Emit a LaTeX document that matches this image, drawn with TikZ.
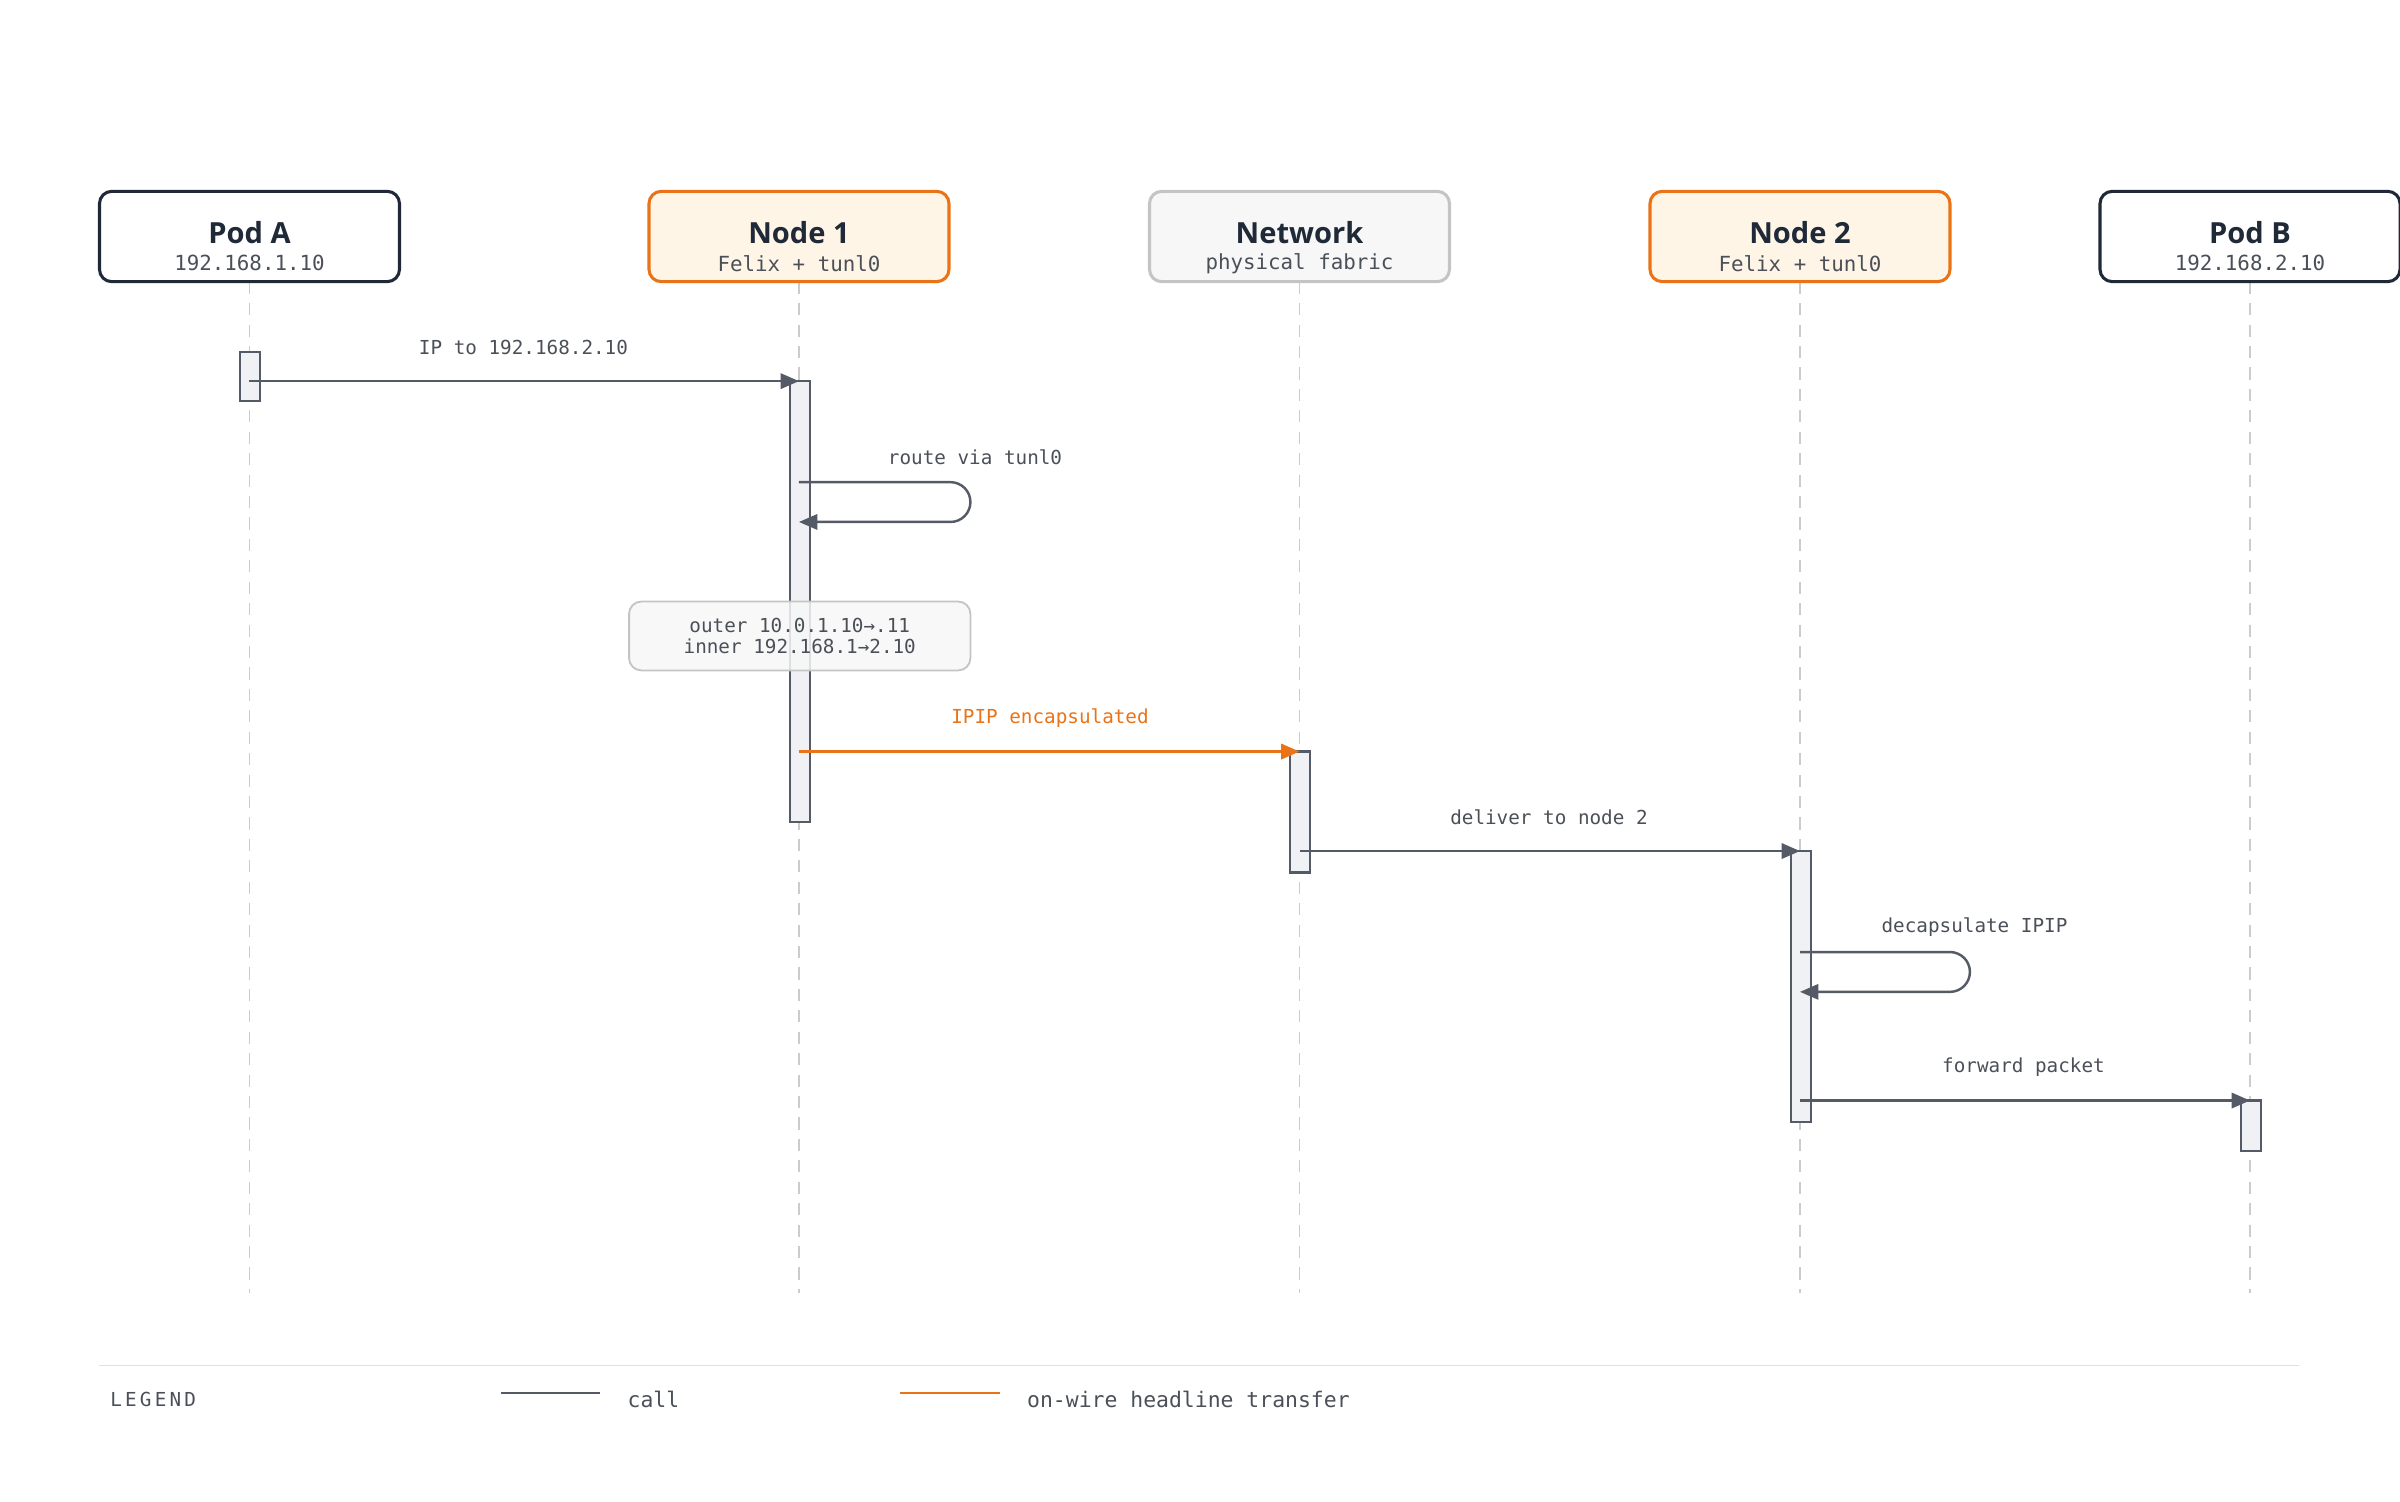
\documentclass[tikz,border=0pt]{standalone}
\usepackage{fontspec}
\setmainfont{Open Sans}
\newfontfamily\mono{DejaVu Sans Mono}
\usetikzlibrary{arrows.meta}
\definecolor{ink}{HTML}{1F2937}
\definecolor{org}{HTML}{EA7317}
\definecolor{orgfill}{HTML}{FEF5E6}
\definecolor{ln}{HTML}{555B66}
\definecolor{netb}{HTML}{C4C4C4}
\definecolor{netf}{HTML}{F7F7F7}
\definecolor{actf}{HTML}{F0F1F4}
\definecolor{life}{HTML}{CCCCCC}
\definecolor{txt}{HTML}{4B5058}
\tikzset{
 head/.style={draw=ink,line width=1pt,fill=white,rounded corners=4pt,minimum width=98pt,minimum height=29.5pt,inner sep=0pt},
 nodehead/.style={head,draw=org,fill=orgfill},
 nethead/.style={head,draw=netb,fill=netf},
 ttl/.style={font=\fontsize{9.5}{10}\selectfont\bfseries,text=ink},
 sub/.style={font=\mono\fontsize{6.8}{8}\selectfont,text=txt},
 lifel/.style={draw=life,line width=0.6pt,dash pattern=on 4pt off 3pt},
 act/.style={draw=ln,line width=0.7pt,fill=actf},
 msg/.style={draw=ln,line width=0.8pt,-{Triangle[length=6pt,width=5pt]}},
 omsg/.style={draw=org,line width=0.9pt,-{Triangle[length=6pt,width=5pt]}},
 lbl/.style={font=\mono\fontsize{6.3}{8}\selectfont,text=txt},
}
\begin{document}
\begin{tikzpicture}[x=0.5pt,y=-0.5pt]
\useasboundingbox (0,0) rectangle (1568,981);
% lifelines
\foreach \n/\x in {a/163,n1/522,net/849,n2/1176,b/1470}{
  \coordinate (t\n) at (\x,184); \coordinate (e\n) at (\x,845);
  \draw[lifel] (t\n) -- (e\n);}
% heads
\node[head] (pa) at (163,154.5) {};
\node[ttl] at (163,152) {Pod A}; \node[sub] at (163,172) {192.168.1.10};
\node[nodehead] (pn1) at (522,154.5) {};
\node[ttl] at (522,152) {Node 1}; \node[sub] at (522,172) {Felix + tunl0};
\node[nethead] (pnet) at (849,154.5) {};
\node[ttl] at (849,152) {Network}; \node[sub] at (849,172) {physical fabric};
\node[nodehead] (pn2) at (1176,154.5) {};
\node[ttl] at (1176,152) {Node 2}; \node[sub] at (1176,172) {Felix + tunl0};
\node[head] (pb) at (1470,154.5) {};
\node[ttl] at (1470,152) {Pod B}; \node[sub] at (1470,172) {192.168.2.10};
% activations
\draw[act] (157,230) rectangle (170,262);
\draw[act] (516,249) rectangle (529,537);
\draw[act] (843,491) rectangle (856,570);
\draw[act] (1170,556) rectangle (1183,733);
\draw[act] (1464,719) rectangle (1477,752);
% note
\node[draw=netb,fill=netf,fill opacity=0.85,text opacity=1,rounded corners=4pt,minimum width=111.5pt,minimum height=22.5pt,line width=0.6pt,align=center,lbl,inner sep=0pt] (note) at (522.5,415.5) {outer 10.0.1.10→.11\\[-1pt]inner 192.168.1→2.10};
% messages
\coordinate (m1s) at (163,249); \coordinate (m1e) at (522,249);
\draw[msg] (m1s) -- (m1e);
\node[lbl] at (342,227) {IP to 192.168.2.10};
\coordinate (s1a) at (522,315); \coordinate (s1b) at (522,341);
\draw[msg,rounded corners=6.5pt] (s1a) -- (634,315) -- (634,341) -- (s1b);
\node[lbl] at (637,299) {route via tunl0};
\coordinate (m2s) at (522,491); \coordinate (m2e) at (849,491);
\draw[omsg] (m2s) -- (m2e);
\node[lbl,text=org] at (686,469) {IPIP encapsulated};
\coordinate (m3s) at (849,556); \coordinate (m3e) at (1176,556);
\draw[msg] (m3s) -- (m3e);
\node[lbl] at (1012,534) {deliver to node 2};
\coordinate (s2a) at (1176,622); \coordinate (s2b) at (1176,648);
\draw[msg,rounded corners=6.5pt] (s2a) -- (1287,622) -- (1287,648) -- (s2b);
\node[lbl] at (1290,606) {decapsulate IPIP};
\coordinate (m4s) at (1176,719); \coordinate (m4e) at (1470,719);
\draw[msg] (m4s) -- (m4e);
\node[lbl] at (1322,697) {forward packet};
% legend
\coordinate (lg1) at (65,892); \coordinate (lg2) at (1502,892);
\draw[draw=life!60,line width=0.5pt] (lg1) -- (lg2);
\node[lbl,anchor=west] at (65,914) {L\,E\,G\,E\,N\,D};
\coordinate (c1) at (327,910); \coordinate (c2) at (392,910);
\draw[ln,line width=0.9pt] (c1) -- (c2);
\node[lbl,anchor=west,font=\mono\fontsize{7}{8}\selectfont] at (403,914) {call};
\coordinate (o1) at (588,910); \coordinate (o2) at (653,910);
\draw[org,line width=0.9pt] (o1) -- (o2);
\node[lbl,anchor=west,font=\mono\fontsize{7}{8}\selectfont] at (664,914) {on-wire headline transfer};
\end{tikzpicture}
\end{document}
